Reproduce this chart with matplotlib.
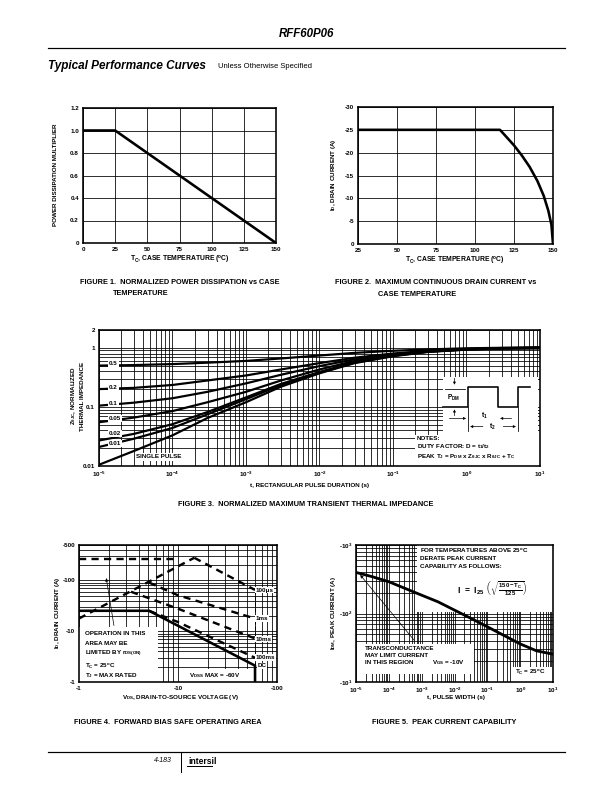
import matplotlib
matplotlib.use('Agg')
import matplotlib.pyplot as plt
import matplotlib.ticker as mticker
from matplotlib import font_manager
from matplotlib.patches import Rectangle

# Helvetica aus dem Datenblatt -> Liberation Sans
plt.rcParams['font.family'] = ['Liberation Sans', 'DejaVu Sans']
plt.rcParams['font.weight'] = 'bold'
plt.rcParams['mathtext.fontset'] = 'custom'
plt.rcParams['mathtext.rm'] = 'Liberation Sans:bold'
plt.rcParams['mathtext.bf'] = 'Liberation Sans:bold'
plt.rcParams['mathtext.it'] = 'Liberation Sans:bold'
plt.rcParams['mathtext.sf'] = 'Liberation Sans:bold'
plt.rcParams['mathtext.default'] = 'rm'
plt.rcParams['axes.unicode_minus'] = False

# schmale Schrift fuer Bildunterschriften, falls vorhanden
font_names = {f.name for f in font_manager.fontManager.ttflist}
if 'Liberation Sans Narrow' in font_names:
    CAP_FONT, CAP_SIZE = 'Liberation Sans Narrow', 9
else:
    CAP_FONT, CAP_SIZE = 'Liberation Sans', 7.4

# ---------------- Daten ----------------

# Figure 1
fig1_temp = [0, 25, 150]
fig1_mult = [1.0, 1.0, 0.0]

# Figure 2
fig2_temp = [25, 116, 120, 125, 130, 135, 140, 144, 147, 149, 150]
fig2_id = [-25, -25, -23.5, -21.6, -19.4, -16.9, -13.8, -10.6, -7.3, -4.2, 0]

# Figure 3
fig3_t = [1e-5, 3e-5, 1e-4, 3e-4, 1e-3, 3e-3, 1e-2, 3e-2, 1e-1, 3e-1, 1, 3, 10]
fig3_d05 = [0.5, 0.51, 0.53, 0.56, 0.6, 0.66, 0.74, 0.82, 0.89, 0.94, 0.98, 1.0, 1.02]
fig3_d02 = [0.2, 0.21, 0.235, 0.28, 0.34, 0.43, 0.55, 0.68, 0.8, 0.89, 0.955, 0.99, 1.0]
fig3_d01 = [0.105, 0.118, 0.14, 0.18, 0.25, 0.35, 0.49, 0.64, 0.78, 0.88, 0.95, 0.985, 1.0]
fig3_d005 = [0.055, 0.066, 0.085, 0.12, 0.18, 0.28, 0.43, 0.6, 0.76, 0.87, 0.945, 0.98, 1.0]
fig3_d002 = [0.027, 0.035, 0.051, 0.082, 0.145, 0.245, 0.39, 0.57, 0.74, 0.86, 0.94, 0.98, 0.99]
fig3_d001 = [0.021, 0.029, 0.044, 0.075, 0.135, 0.235, 0.38, 0.56, 0.73, 0.86, 0.935, 0.975, 0.99]
fig3_single = [0.0105, 0.018, 0.033, 0.065, 0.12, 0.22, 0.37, 0.55, 0.72, 0.85, 0.93, 0.97, 0.98]
fig3_labels = ['0.5', '0.2', '0.1', '0.05', '0.02', '0.01']

# Figure 4 (Spannung und Strom negativ, P-Kanal)
fig4_rds_v = [-1, -14.6]
fig4_rds_i = [-17.8, -280]
fig4_lim_v = [-1, -9.2]
fig4_lim_i = [-260, -260]
fig4_100us_v = [-14.6, -60]
fig4_100us_i = [-280, -65]
fig4_1ms_v = [-5.1, -9.9, -60]
fig4_1ms_i = [-91, -51.5, -17.8]
fig4_10ms_v = [-3.35, -9.9, -60]
fig4_10ms_i = [-60, -28, -7.2]
fig4_100ms_v = [-5.1, -9.9, -60]
fig4_100ms_i = [-25.3, -15.3, -3.0]
fig4_dc_v = [-1, -5.1, -60, -60]
fig4_dc_i = [-25.3, -25.3, -2.1, -1]
fig4_vdss = -60

# Figure 5
fig5_t = [1e-5, 3.16e-5, 1e-4, 3.16e-4, 1e-3, 3.16e-3, 1e-2, 3.16e-2, 1e-1, 3.16e-1, 1, 3.16, 10]
fig5_idm = [-398, -344, -291, -232, -185, -148, -112, -85, -64, -48, -36, -28.5, -25.5]
fig5_gfs_t = [6.5e-4, 1.23e-5]
fig5_gfs_i = [-38.5, -385]

# ---------------- Seite ----------------
W, H = 612, 792
fig = plt.figure(figsize=(8.5, 11), dpi=72)


def place(x0, y0, x1, y1):
    # Achse in Seitenpixeln (oben links = 0,0)
    return fig.add_axes([x0 / W, 1 - y1 / H, (x1 - x0) / W, (y1 - y0) / H])


def ftext(x, y, s, **kw):
    kw.setdefault('fontsize', 7.5)
    kw.setdefault('ha', 'center')
    kw.setdefault('va', 'center')
    fig.text(x / W, 1 - y / H, s, **kw)


def caption(x, y, s, **kw):
    kw.setdefault('ha', 'left')
    ftext(x, y, s, family=CAP_FONT, fontsize=CAP_SIZE, **kw)


def style(ax):
    for sp in ax.spines.values():
        sp.set_linewidth(1.6)
    ax.tick_params(which='both', length=0, labelsize=6.3, pad=4)
    ax.grid(True, which='both', color='k', lw=0.8)


def neg(seq):
    return [-v for v in seq]


def whitebox(ax, x0, y0, x1, y1):
    ax.add_patch(Rectangle((x0, y0), x1 - x0, y1 - y0, transform=ax.transAxes,
                           fc='white', ec='none', zorder=2))


# Kopfzeile
ftext(306, 34, 'RFF60P06', fontsize=11.5, style='italic')
fig.add_artist(plt.Line2D([48 / W, 565 / W], [1 - 48 / H] * 2, color='k', lw=1.2))
ftext(48, 66, 'Typical Performance Curves', fontsize=11.8, style='italic', ha='left')
ftext(218, 66, 'Unless Otherwise Specified', fontsize=7.6, weight='normal', ha='left')

# ---------------- Figure 1 ----------------
ax1 = place(83, 108, 276, 243)
style(ax1)
ax1.plot(fig1_temp, fig1_mult, color='k', lw=2.6, solid_capstyle='butt')
ax1.set_xlim(0, 150)
ax1.set_ylim(0, 1.2)
ax1.set_xticks(range(0, 151, 25))
ax1.set_yticks([0, 0.2, 0.4, 0.6, 0.8, 1.0, 1.2])
ax1.set_yticklabels(['0', '0.2', '0.4', '0.6', '0.8', '1.0', '1.2'])
ftext(56, 175, 'POWER DISSIPATION MULTIPLIER', rotation=90, fontsize=6.3)
ftext(180, 260, r'T$_\mathregular{C}$, CASE TEMPERATURE ($^\mathregular{o}$C)', fontsize=6.8)
caption(80, 282, 'FIGURE 1.  NORMALIZED POWER DISSIPATION vs CASE')
caption(113, 293, 'TEMPERATURE')

# ---------------- Figure 2 ----------------
ax2 = place(358, 107, 553, 244)
style(ax2)
ax2.plot(fig2_temp, fig2_id, color='k', lw=2.6)
ax2.set_xlim(25, 150)
ax2.set_ylim(0, -30)
ax2.set_xticks(range(25, 151, 25))
ax2.set_yticks(range(0, -31, -5))
ax2.set_yticklabels(['0', '-5', '-10', '-15', '-20', '-25', '-30'])
ftext(333, 175, r'I$_\mathregular{D}$, DRAIN CURRENT (A)', rotation=90, fontsize=6.3)
ftext(455, 261, r'T$_\mathregular{C}$, CASE TEMPERATURE ($^\mathregular{o}$C)', fontsize=6.8)
caption(335, 282, 'FIGURE 2.  MAXIMUM CONTINUOUS DRAIN CURRENT vs')
caption(378, 294, 'CASE TEMPERATURE')

# ---------------- Figure 3 ----------------
ax3 = place(99, 330, 540, 466)
style(ax3)
ax3.set_xscale('log')
ax3.set_yscale('log')
ax3.set_xlim(1e-5, 10)
ax3.set_ylim(0.01, 2)
for z in [fig3_d05, fig3_d02, fig3_d01, fig3_d005, fig3_d002, fig3_d001, fig3_single]:
    ax3.plot(fig3_t, z, color='k', lw=2.2, zorder=3)
ax3.set_xticks([1e-5, 1e-4, 1e-3, 1e-2, 1e-1, 1, 10])
ax3.set_xticklabels(['10$^{-5}$', '10$^{-4}$', '10$^{-3}$', '10$^{-2}$',
                     '10$^{-1}$', '10$^{0}$', '10$^{1}$'])
ax3.set_yticks([0.01, 0.1, 1, 2])
ax3.set_yticklabels(['0.01', '0.1', '1', '2'])
ax3.xaxis.set_minor_locator(mticker.LogLocator(10, subs=range(2, 10)))
ax3.yaxis.set_minor_locator(mticker.LogLocator(10, subs=range(2, 10)))
ax3.xaxis.set_minor_formatter(mticker.NullFormatter())
ax3.yaxis.set_minor_formatter(mticker.NullFormatter())
for lab, yf in zip(fig3_labels, [0.752, 0.579, 0.461, 0.348, 0.238, 0.167]):
    ax3.text(0.022, yf, lab, transform=ax3.transAxes, fontsize=6.3, va='center',
             zorder=4, bbox=dict(fc='white', ec='none', pad=1.2))
ax3.text(0.085, 0.068, 'SINGLE PULSE', transform=ax3.transAxes, fontsize=6.3,
         va='center', zorder=4, bbox=dict(fc='white', ec='none', pad=1.5))

# Kasten mit Hinweisen und Pulsskizze
whitebox(ax3, 0.716, 0.0, 1.0, 0.228)
whitebox(ax3, 0.781, 0.0, 0.995, 0.657)
tr = ax3.transAxes
ax3.plot([0.781, 0.837, 0.837, 0.905, 0.905, 0.95, 0.95, 0.977],
         [0.431, 0.431, 0.583, 0.583, 0.431, 0.431, 0.583, 0.583],
         color='k', lw=1.6, transform=tr, zorder=4)
ax3.plot([0.837, 0.837], [0.431, 0.26], color='k', lw=0.8, transform=tr, zorder=4)
ax3.plot([0.95, 0.95], [0.431, 0.26], color='k', lw=0.8, transform=tr, zorder=4)
ax3.plot([0.785, 0.83], [0.565, 0.565], color='k', lw=0.8, transform=tr, zorder=4)
arr = dict(arrowstyle='-|>', color='k', lw=0.7, mutation_scale=5)
ax3.annotate('', xy=(0.806, 0.583), xytext=(0.806, 0.66), xycoords=tr, arrowprops=arr, zorder=4)
ax3.annotate('', xy=(0.806, 0.431), xytext=(0.806, 0.355), xycoords=tr, arrowprops=arr, zorder=4)
ax3.annotate('', xy=(0.837, 0.35), xytext=(0.79, 0.35), xycoords=tr, arrowprops=arr, zorder=4)
ax3.annotate('', xy=(0.905, 0.35), xytext=(0.94, 0.35), xycoords=tr, arrowprops=arr, zorder=4)
ax3.annotate('', xy=(0.837, 0.29), xytext=(0.875, 0.29), xycoords=tr, arrowprops=arr, zorder=4)
ax3.annotate('', xy=(0.95, 0.29), xytext=(0.912, 0.29), xycoords=tr, arrowprops=arr, zorder=4)
ax3.text(0.788, 0.5, r'P$_\mathregular{DM}$', transform=tr, fontsize=6.5, va='center', zorder=4)
ax3.text(0.866, 0.37, r't$_\mathregular{1}$', transform=tr, fontsize=6.8, va='center', zorder=4)
ax3.text(0.885, 0.29, r't$_\mathregular{2}$', transform=tr, fontsize=6.8, va='center', zorder=4)
ax3.text(0.72, 0.205, 'NOTES:', transform=tr, fontsize=6.2, va='center', zorder=4)
ax3.text(0.72, 0.142, r'DUTY FACTOR: D = t$_\mathregular{1}$/t$_\mathregular{2}$',
         transform=tr, fontsize=6.2, va='center', zorder=4)
ax3.text(0.72, 0.072, r'PEAK T$_\mathregular{J}$ = P$_\mathregular{DM}$ x Z$_\mathregular{θJC}$'
         r' x R$_\mathregular{θJC}$ + T$_\mathregular{C}$',
         transform=tr, fontsize=6.2, va='center', zorder=4)

ftext(77, 396, 'Z$_\\mathregular{θJC}$, NORMALIZED\nTHERMAL IMPEDANCE', rotation=90,
      fontsize=6.3, linespacing=1.5)
ftext(310, 486, 't, RECTANGULAR PULSE DURATION (s)', fontsize=6.3)
caption(306, 505, 'FIGURE 3.  NORMALIZED MAXIMUM TRANSIENT THERMAL IMPEDANCE', ha='center')

# ---------------- Figure 4 ----------------
ax4 = place(79, 545, 277, 682)
style(ax4)
ax4.set_xscale('log')
ax4.set_yscale('log')
ax4.set_xlim(1, 100)
ax4.set_ylim(1, 500)
dash = (0, (3, 2.2))
ax4.plot(neg(fig4_lim_v), neg(fig4_lim_i), color='k', lw=2.4, ls=dash, zorder=3)
ax4.plot(neg(fig4_rds_v), neg(fig4_rds_i), color='k', lw=2.4, ls=dash, zorder=3)
ax4.plot(neg(fig4_100us_v), neg(fig4_100us_i), color='k', lw=2.4, ls=dash, zorder=3)
ax4.plot(neg(fig4_1ms_v), neg(fig4_1ms_i), color='k', lw=2.4, ls=dash, zorder=3)
ax4.plot(neg(fig4_10ms_v), neg(fig4_10ms_i), color='k', lw=2.4, ls=dash, zorder=3)
ax4.plot(neg(fig4_100ms_v), neg(fig4_100ms_i), color='k', lw=2.4, ls=dash, zorder=3)
ax4.plot(neg(fig4_dc_v), neg(fig4_dc_i), color='k', lw=2.6, zorder=3)
ax4.plot([-fig4_vdss, -fig4_vdss], [-fig4_dc_i[2], -fig4_100us_i[1]], color='k',
         lw=1.0, ls=(0, (4, 2)), zorder=3)
ax4.set_xticks([1, 10, 100])
ax4.set_xticklabels(['-1', '-10', '-100'])
ax4.set_yticks([1, 10, 100, 500])
ax4.set_yticklabels(['-1', '-10', '-100', '-500'])
ax4.xaxis.set_minor_locator(mticker.LogLocator(10, subs=range(2, 10)))
ax4.yaxis.set_minor_locator(mticker.LogLocator(10, subs=range(2, 10)))
ax4.xaxis.set_minor_formatter(mticker.NullFormatter())
ax4.yaxis.set_minor_formatter(mticker.NullFormatter())
whitebox(ax4, 0.0, 0.0, 0.397, 0.398)
whitebox(ax4, 0.54, 0.0, 0.869, 0.098)
tr = ax4.transAxes
for s, yf in [('OPERATION IN THIS', 0.354), ('AREA MAY BE', 0.278),
              (r'LIMITED BY r$_\mathregular{DS(ON)}$', 0.202),
              (r'T$_\mathregular{C}$ = 25$^\mathregular{o}$C', 0.117),
              (r'T$_\mathregular{J}$ = MAX RATED', 0.044)]:
    ax4.text(0.03, yf, s, transform=tr, fontsize=6.3, va='center', zorder=4)
ax4.text(0.555, 0.049, r'V$_\mathregular{DSS}$ MAX = -60V', transform=tr, fontsize=6.3,
         va='center', zorder=4)
for s, xf, yf in [('100μs', 0.893, 0.671), ('1ms', 0.893, 0.463), ('10ms', 0.893, 0.312),
                  ('100ms', 0.893, 0.178), ('DC', 0.9, 0.118)]:
    ax4.text(xf, yf, s, transform=tr, fontsize=6.3, va='center', zorder=4,
             bbox=dict(fc='white', ec='none', pad=0.6))
ax4.annotate('', xy=(0.136, 0.773), xytext=(0.178, 0.398), xycoords=tr,
             arrowprops=dict(arrowstyle='-|>', color='k', lw=0.7, mutation_scale=6), zorder=4)
ftext(57, 613, r'I$_\mathregular{D}$, DRAIN CURRENT (A)', rotation=90, fontsize=6.3)
ftext(180, 698, r'V$_\mathregular{DS}$, DRAIN-TO-SOURCE VOLTAGE (V)', fontsize=6.3)
caption(168, 722, 'FIGURE 4.  FORWARD BIAS SAFE OPERATING AREA', ha='center')

# ---------------- Figure 5 ----------------
ax5 = place(356, 545, 553, 682)
style(ax5)
ax5.set_xscale('log')
ax5.set_yscale('log')
ax5.set_xlim(1e-5, 10)
ax5.set_ylim(10, 1000)
ax5.plot(fig5_t, neg(fig5_idm), color='k', lw=2.8, zorder=3)
ax5.annotate('', xy=(fig5_gfs_t[1], -fig5_gfs_i[1]), xytext=(fig5_gfs_t[0], -fig5_gfs_i[0]),
             arrowprops=dict(arrowstyle='-|>', color='k', lw=0.7, mutation_scale=6), zorder=4)
ax5.set_xticks([1e-5, 1e-4, 1e-3, 1e-2, 1e-1, 1, 10])
ax5.set_xticklabels(['10$^{-5}$', '10$^{-4}$', '10$^{-3}$', '10$^{-2}$',
                     '10$^{-1}$', '10$^{0}$', '10$^{1}$'])
ax5.set_yticks([10, 100, 1000])
ax5.set_yticklabels(['-10$^{1}$', '-10$^{2}$', '-10$^{3}$'])
ax5.xaxis.set_minor_locator(mticker.LogLocator(10, subs=range(2, 10)))
ax5.yaxis.set_minor_locator(mticker.LogLocator(10, subs=range(2, 10)))
ax5.xaxis.set_minor_formatter(mticker.NullFormatter())
ax5.yaxis.set_minor_formatter(mticker.NullFormatter())
whitebox(ax5, 0.31, 0.51, 1.0, 1.0)
whitebox(ax5, 0.007, 0.06, 0.597, 0.28)
whitebox(ax5, 0.79, 0.0, 1.0, 0.11)
tr = ax5.transAxes
for s, yf in [(r'FOR TEMPERATURES ABOVE 25$^\mathregular{o}$C', 0.956),
              ('DERATE PEAK CURRENT', 0.9), ('CAPABILITY AS FOLLOWS:', 0.846)]:
    ax5.text(0.327, yf, s, transform=tr, fontsize=6.3, va='center', zorder=4)
ax5.text(0.69, 0.683, r'I  =  I$_\mathregular{25}$ $\left(\sqrt{\frac{150 - T_C}{125}}\right)$',
         transform=tr, fontsize=8.5, ha='center', va='center', zorder=4)
for s, yf in [('TRANSCONDUCTANCE', 0.244), ('MAY LIMIT CURRENT', 0.195),
              ('IN THIS REGION', 0.141)]:
    ax5.text(0.046, yf, s, transform=tr, fontsize=6.3, va='center', zorder=4)
ax5.text(0.386, 0.141, r'V$_\mathregular{GS}$ = -10V', transform=tr, fontsize=6.3,
         va='center', zorder=4)
ax5.text(0.808, 0.073, r'T$_\mathregular{C}$ = 25$^\mathregular{o}$C', transform=tr,
         fontsize=6.3, va='center', zorder=4)
ftext(333, 613, r'I$_\mathregular{DM}$, PEAK CURRENT (A)', rotation=90, fontsize=6.3)
ftext(456, 698, 't, PULSE WIDTH (s)', fontsize=6.3)
caption(444, 722, 'FIGURE 5.  PEAK CURRENT CAPABILITY', ha='center')

# Fusszeile
fig.add_artist(plt.Line2D([48 / W, 565 / W], [1 - 752 / H] * 2, color='k', lw=1.2))
fig.add_artist(plt.Line2D([180.5 / W] * 2, [1 - 752 / H, 1 - 772 / H], color='k', lw=1.0))
ftext(172, 760, '4-183', fontsize=7, weight='normal', style='italic', ha='right')
ftext(188, 761, 'intersil', fontsize=8.5, ha='left')
fig.add_artist(plt.Line2D([187 / W, 212 / W], [1 - 766 / H] * 2, color='k', lw=1.0))

fig.savefig('out.png', dpi=72)
